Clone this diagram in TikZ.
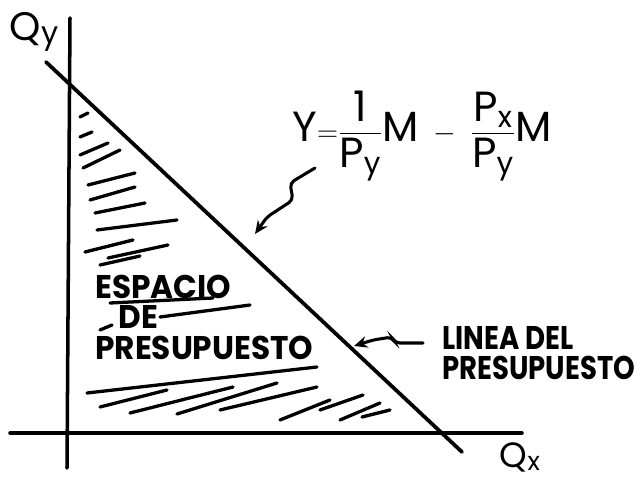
\documentclass[tikz,border=0pt]{standalone}
\usepackage{amsmath}
\usepackage{fontspec}
\setmainfont{Poppins}
\setsansfont{Poppins}
\usetikzlibrary{arrows.meta}
\tikzset{
  axis/.style={line width=3pt, line cap=round},
  budget/.style={line width=3.2pt, line cap=round},
  hatch/.style={line width=2.8pt, line cap=round},
  pointer/.style={-{Stealth[length=4mm, width=3.5mm]}, line width=2.6pt, line cap=round, rounded corners=4pt},
  hand/.style={font=\bfseries\fontsize{28}{28}\selectfont, align=left, inner sep=0pt}
}
\newcommand{\narrow}[2][0.84]{\scalebox{#1}[1]{#2}}

\begin{document}
\begin{tikzpicture}[x=0.03cm, y=-0.03cm]
\useasboundingbox (0,0) rectangle (637,480);

% ejes
\coordinate (ytop) at (70,18);
\coordinate (ybot) at (67,468);
\coordinate (xleft) at (10,433);
\coordinate (xright) at (522,433);
\draw[axis] (ytop) -- (ybot);
\draw[axis] (xleft) -- (xright);
\node[font=\fontsize{34}{36}\selectfont, inner sep=0pt] (qy) at (34,32) {Q\raisebox{-3pt}{\fontsize{26}{28}\selectfont y}};
\node[font=\fontsize{30}{32}\selectfont, inner sep=0pt] (qx) at (520,457) {Q\raisebox{-3pt}{\fontsize{22}{24}\selectfont x}};

% linea del presupuesto
\coordinate (bl_start) at (46,62);
\coordinate (bl_end) at (462,452);
\draw[budget] (bl_start) -- (bl_end);

% rayado del espacio
\foreach \a/\b/\c/\d in {80/117/88/113, 80/137/92/132, 80/155/108/143, 83/168/120/150,
  88/185/135/173, 90/200/135/187, 95/213/145/203, 97/230/177/220, 85/252/133/240,
  108/258/168/245, 100/265/140/256, 110/303/213/298, 100/330/112/325, 160/317/250/305,
  87/393/317/367, 100/407/167/390, 130/413/233/387, 177/414/277/383,
  220/410/317/387, 280/420/330/400, 320/410/363/395, 340/420/380/403, 362/417/390/410}
  \draw[hatch] (\a,\b) -- (\c,\d);

% textos
\node[inner sep=0pt] (eq) at (422,136)
  {\fontsize{36}{40}\selectfont$\mathsf{Y}{=}\dfrac{\mathsf{1}}{\mathsf{P}_{\mathsf{y}}}\mathsf{M}\;-\;\dfrac{\mathsf{P}_{\mathsf{x}}}{\mathsf{P}_{\mathsf{y}}}\mathsf{M}$};
\node[hand, anchor=west] (espacio) at (95,317) {\narrow[0.95]{ESPACIO}\\[-2pt]\hspace{20pt}\narrow[0.95]{DE}\\[-2pt]\narrow[0.95]{PRESUPUESTO}};
\node[hand, anchor=west] (linea) at (442,353) {\narrow{LINEA DEL}\\[-2pt]\narrow{PRESUPUESTO}};

% flechas
\draw[pointer] (315,168) -- (290,183) -- (293,200) -- (267,217) -- (255,234);
\draw[pointer] (423,343) -- (395,343) -- (392,337) -- (373,340) -- (354,346);
\end{tikzpicture}
\end{document}
